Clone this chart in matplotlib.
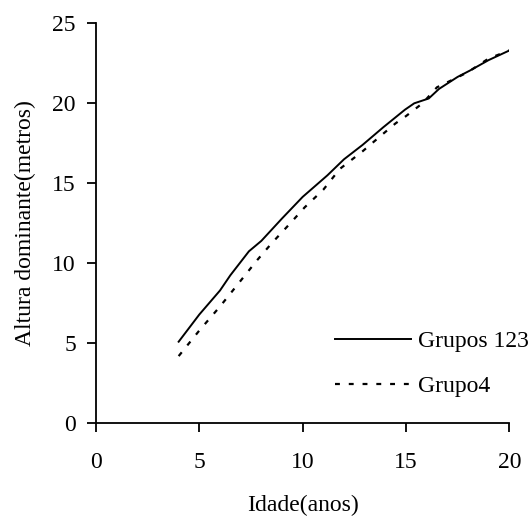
import matplotlib
matplotlib.use("Agg")
import matplotlib.pyplot as plt

# Dominant height curves by age
idade_g123 = [4.0, 5.0, 6.0, 6.5, 7.4, 8.0, 9.0, 10.0, 11.2, 12.0, 12.9,
              13.9, 14.95, 15.4, 16.1, 16.6, 17.5, 18.1, 19.0, 20.0]
altura_g123 = [5.1, 6.8, 8.3, 9.25, 10.75, 11.4, 12.8, 14.15, 15.5, 16.5, 17.4,
               18.5, 19.6, 20.0, 20.3, 20.9, 21.65, 22.05, 22.7, 23.3]

idade_g4 = [4.0, 5.0, 6.0, 6.9, 7.8, 8.5, 9.4, 10.1, 11.0, 11.8, 12.9,
            13.9, 14.5, 15.0, 15.8, 16.5, 17.3, 18.0, 19.0, 20.0]
altura_g4 = [4.2, 5.8, 7.3, 8.75, 10.2, 11.25, 12.5, 13.5, 14.6, 15.9, 17.0,
             18.1, 18.75, 19.2, 20.0, 21.0, 21.5, 21.95, 22.8, 23.3]

x_ticks = [0, 5, 10, 15, 20]
y_ticks = [0, 5, 10, 15, 20, 25]

plt.rcParams['font.family'] = ['Liberation Serif', 'DejaVu Serif']
FS = 17

W, H = 530, 518
fig = plt.figure(figsize=(W / 100, H / 100), dpi=100)
ax = fig.add_axes([96 / W, 1 - 423.3 / H, 413.3 / W, 400 / H])

ax.plot(idade_g123, altura_g123, color='black', lw=1.4, linestyle='-',
        label='Grupos 123')
ax.plot(idade_g4, altura_g4, color='black', lw=1.6, linestyle=(0, (2.2, 4.0)),
        label='Grupo4')

ax.set_xlim(0, 20)
ax.set_ylim(0, 25)
ax.set_xticks(x_ticks)
ax.set_yticks(y_ticks)

for s in ['top', 'right']:
    ax.spines[s].set_visible(False)
for s in ['left', 'bottom']:
    ax.spines[s].set_linewidth(1.3)

ax.tick_params(axis='both', direction='out', length=6.5, width=1.3,
               labelsize=FS, colors='black')
ax.tick_params(axis='x', pad=14)
ax.tick_params(axis='y', pad=8)

ax.set_xlabel('Idade(anos)', fontsize=FS, labelpad=16)
ax.set_ylabel('Altura dominante(metros)', fontsize=FS, labelpad=12)

ax.legend(loc='center left', bbox_to_anchor=(335 / W, 1 - 364 / H),
          bbox_transform=fig.transFigure, frameon=False,
          fontsize=FS, handlelength=3.2, handletextpad=0.3,
          labelspacing=1.0, borderpad=0, borderaxespad=0)

fig.savefig('out.png', dpi=100)
